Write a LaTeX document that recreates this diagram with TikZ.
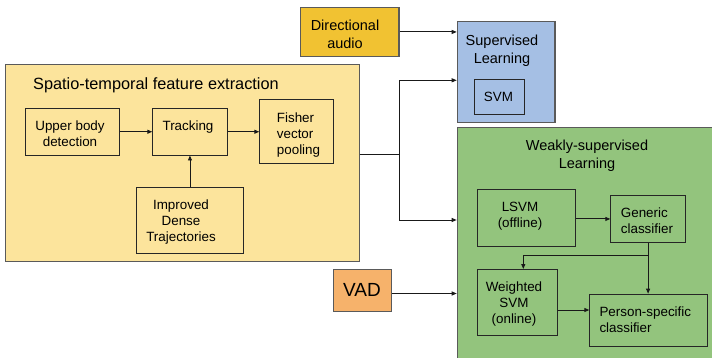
\documentclass[tikz,border=0pt]{standalone}
\usepackage{fontspec}
\setmainfont{Liberation Sans}
\usetikzlibrary{arrows.meta}
\definecolor{cyel}{HTML}{FCE49C}
\definecolor{cdir}{HTML}{F1C232}
\definecolor{csup}{HTML}{A5BFE4}
\definecolor{cgrn}{HTML}{93C47D}
\definecolor{cvad}{HTML}{F6B26B}
\definecolor{cout}{HTML}{5A5A5A}
\begin{document}
\begin{tikzpicture}[x=1pt,y=-1pt,
  outer/.style={draw=cout, line width=1.2pt, inner sep=0, anchor=north west},
  inner/.style={draw=black!85, line width=0.9pt, inner sep=0, anchor=north west},
  txt/.style={font=\fontsize{13.4}{16}\selectfont, inner sep=0, align=center},
  txtl/.style={font=\fontsize{13.4}{16}\selectfont, inner sep=0, align=left},
  big/.style={font=\fontsize{14.5}{18.5}\selectfont, inner sep=0, align=center},
  arr/.style={draw=black!90, line width=0.9pt, -{Triangle[length=5pt,width=4pt]}},
  ln/.style={draw=black!90, line width=0.9pt}]
\useasboundingbox (0,0) rectangle (712,358);
\clip (0,0) rectangle (712,358);
\fill[white] (0,0) rectangle (712,358);

% spatio-temporal block
\node[outer, fill=cyel, minimum width=353.5pt, minimum height=196.7pt] (spt) at (5,64) {};
\node[font=\fontsize{16.3}{19}\selectfont, inner sep=0, anchor=base west] (spttitle) at (33,89.3) {Spatio-temporal feature extraction};
\node[inner, minimum width=94.3pt, minimum height=46.6pt] (ubd) at (25,108) {};
\node[inner, minimum width=74.4pt, minimum height=46.6pt] (trk) at (152.3,108) {};
\node[inner, minimum width=74pt, minimum height=63.4pt] (fis) at (259.3,99.3) {};
\node[inner, minimum width=106.7pt, minimum height=66pt] (idt) at (136,186.7) {};
\node[txt, anchor=north] (ubdt) at (70,121) {Upper body\\detection};
\node[txt, anchor=base] (trkt) at (188,131) {Tracking};
\node[txtl, anchor=north west] (fist) at (276.7,113) {Fisher\\vector\\pooling};
\node[txt, anchor=north] (idtt) at (181,200) {Improved\\Dense\\Trajectories};

% directional audio
\node[outer, fill=cdir, minimum width=98.3pt, minimum height=49.3pt] (dir) at (300,6.7) {};
\node[big, anchor=north] (dirt) at (345,19.5) {Directional\\audio};

% supervised
\node[outer, fill=csup, minimum width=97.6pt, minimum height=101pt] (sup) at (456.7,21.3) {};
\node[big, anchor=north] (supt) at (502,34.5) {Supervised\\Learning};
\node[inner, minimum width=49.7pt, minimum height=35pt] (svm) at (474,79) {};
\node[txt, anchor=base] (svmt) at (498.5,101.5) {SVM};

% weakly supervised
\node[outer, fill=cgrn, minimum width=270pt, minimum height=250pt] (wk) at (456.7,126.7) {};
\node[big, anchor=north] (wkt) at (587,139.5) {Weakly-supervised\\Learning};
\node[inner, minimum width=98pt, minimum height=56.7pt] (lsvm) at (477,189.3) {};
\node[inner, minimum width=74.7pt, minimum height=46.4pt] (gen) at (610.3,195.3) {};
\node[inner, minimum width=79.7pt, minimum height=65.7pt] (wsvm) at (477,269) {};
\node[inner, minimum width=118pt, minimum height=52.6pt] (per) at (589.3,293.7) {};
\node[txt, anchor=north] (lsvmt) at (520,201.5) {LSVM\\(offline)};
\node[txtl, anchor=north west] (gent) at (620.7,208) {Generic\\classifier};
\node[txt, anchor=north] (wsvmt) at (514,282) {Weighted\\SVM\\(online)};
\node[txtl, anchor=north west] (pert) at (599.3,306.5) {Person-specific\\classifier};

% VAD
\node[outer, fill=cvad, minimum width=58.3pt, minimum height=41.7pt] (vad) at (332.7,269) {};
\node[font=\fontsize{19}{22}\selectfont, inner sep=0, anchor=base] (vadt) at (362,296.8) {VAD};

% connectors
\draw[arr] (ubd.east) -- (trk.west);
\draw[arr] (trk.east) -- (trk.east -| fis.west);
\draw[arr] (idt.north -| trk.south) -- (trk.south);
\draw[arr] (dir.east) -- (dir.east -| sup.west);

\coordinate (ja) at (399,154.3);
\coordinate (ys) at (0,80.3);
\coordinate (yw) at (0,220);
\coordinate (yv) at (0,293.5);
\draw[ln] (spt.east |- ja) -- (ja);
\draw[arr] (ja) |- (sup.west |- ys);
\draw[arr] (ja) |- (wk.west |- yw);
\draw[arr] (vad.east |- yv) -- (wk.west |- yv);

\draw[arr] (lsvm.east |- gen.west) -- (gen.west);
\draw[arr] (gen.south) -- (gen.south |- per.north);
\coordinate (jb) at (647.7,255.7);
\coordinate (jc) at (523.3,255.7);
\draw[ln] (jb) -- (jc);
\draw[arr] (jc) -- (jc |- wsvm.north);
\coordinate (yp) at (0,310);
\draw[arr] (wsvm.east |- yp) -- (per.west |- yp);
\end{tikzpicture}
\end{document}
